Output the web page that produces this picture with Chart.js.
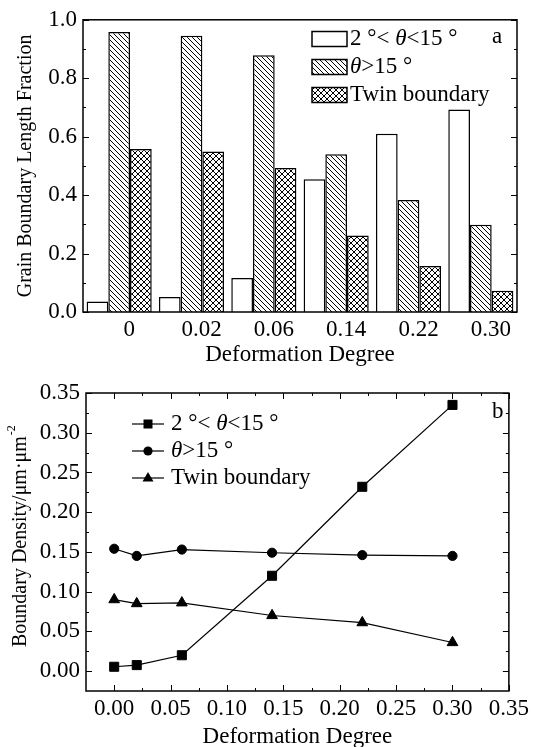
<!DOCTYPE html>
<html>
<head>
<meta charset="utf-8">
<title>Grain boundary fraction and density vs deformation degree</title>
<script src="https://cdn.jsdelivr.net/npm/chart.js@4.4.1/dist/chart.umd.min.js"></script>
<style>
  body { margin: 0; background: #fff; }
  canvas { display: block; }
</style>
</head>
<body>
<canvas id="fractionChart" width="533" height="370"></canvas>
<canvas id="densityChart" width="533" height="377"></canvas>
<script>
// Deformation degrees (shared by both panels)
const degreeLabels = ['0', '0.02', '0.06', '0.14', '0.22', '0.30'];
const degrees = [0, 0.02, 0.06, 0.14, 0.22, 0.30];
const seriesNames = ['2 °< θ<15 °', 'θ>15 °', 'Twin boundary'];

// Panel a: grain boundary length fraction
const lowAngleFraction = [0.036, 0.051, 0.116, 0.454, 0.610, 0.693];
const highAngleFraction = [0.958, 0.945, 0.879, 0.540, 0.383, 0.299];
const twinFraction = [0.558, 0.549, 0.493, 0.262, 0.157, 0.073];
const fractionTicks = [0, 0.2, 0.4, 0.6, 0.8, 1.0];

// Panel b: boundary density
const lowAngleDensity = [0.0055, 0.0076, 0.020, 0.120, 0.232, 0.335];
const highAngleDensity = [0.154, 0.145, 0.153, 0.149, 0.146, 0.145];
const twinDensity = [0.090, 0.085, 0.086, 0.070, 0.061, 0.036];
const densityTicks = [0, 0.05, 0.10, 0.15, 0.20, 0.25, 0.30, 0.35];
const degreeTicks = [0, 0.05, 0.10, 0.15, 0.20, 0.25, 0.30, 0.35];

const serif = "'Liberation Serif', 'Times New Roman', serif";
Chart.defaults.font.family = serif;
Chart.defaults.color = '#000';

// hatch fills for the bars
function hatch(size, cross) {
    const c = document.createElement('canvas');
    c.width = c.height = size;
    const g = c.getContext('2d');
    g.fillStyle = '#fff';
    g.fillRect(0, 0, size, size);
    g.strokeStyle = '#000';
    g.lineWidth = 1;
    g.beginPath();
    for (let k = -1; k <= 1; k++) {
        g.moveTo(k * size, 0);
        g.lineTo(k * size + size, size);
        if (cross) {
            g.moveTo(k * size, size);
            g.lineTo(k * size + size, 0);
        }
    }
    g.stroke();
    return g.createPattern(c, 'repeat');
}

// legend text with an italic theta
function richText(ctx, text, x, y, size) {
    const parts = text.split('θ');
    parts.forEach((p, i) => {
        ctx.font = size + 'px ' + serif;
        ctx.fillText(p, x, y);
        x += ctx.measureText(p).width;
        if (i < parts.length - 1) {
            ctx.font = 'italic ' + size + 'px ' + serif;
            ctx.fillText('θ', x, y);
            x += ctx.measureText('θ').width;
        }
    });
}

// inward tick marks, major on the tick values and minor half way between
function drawTicks(ctx, scale, values, from, dir, horizontal) {
    ctx.beginPath();
    values.forEach((v, i) => {
        const marks = [[v, 6]];
        if (i > 0) marks.push([(v + values[i - 1]) / 2, 3]);
        marks.forEach(([val, len]) => {
            const p = Math.round(scale.getPixelForValue(val)) + 0.5;
            if (horizontal) {
                ctx.moveTo(p, from);
                ctx.lineTo(p, from + dir * len);
            } else {
                ctx.moveTo(from, p);
                ctx.lineTo(from + dir * len, p);
            }
        });
    });
    ctx.stroke();
}

function setTicks(values) {
    return scale => { scale.ticks = values.map(v => ({ value: v })); };
}

// ---------- Panel a ----------
const barFills = ['#fff', hatch(5, false), hatch(6, true)];
const barSeries = [lowAngleFraction, highAngleFraction, twinFraction];

const fractionFrame = {
    id: 'fractionFrame',
    afterDraw(chart) {
        const ctx = chart.ctx;
        const a = chart.chartArea;
        const y = chart.scales.y;
        ctx.save();
        ctx.strokeStyle = '#000';
        ctx.lineWidth = 1;
        drawTicks(ctx, y, fractionTicks, a.left, 1, false);
        drawTicks(ctx, y, fractionTicks, a.right, -1, false);
        ctx.lineWidth = 1.5;
        ctx.strokeRect(a.left, a.top, a.right - a.left, a.bottom - a.top);

        // legend
        ctx.fillStyle = '#000';
        ctx.textBaseline = 'middle';
        ctx.textAlign = 'left';
        const rows = [39, 67, 95];
        chart.data.datasets.forEach((ds, i) => {
            ctx.fillStyle = ds.backgroundColor;
            ctx.fillRect(312, rows[i] - 7.5, 35, 15);
            ctx.lineWidth = 1.5;
            ctx.strokeRect(312, rows[i] - 7.5, 35, 15);
            ctx.fillStyle = '#000';
            richText(ctx, ds.label, 350, rows[i], 23);
        });
        ctx.font = '23px ' + serif;
        ctx.fillText('a', 492, 37);
        ctx.restore();
    }
};

new Chart(document.getElementById('fractionChart'), {
    type: 'bar',
    data: {
        labels: degreeLabels,
        datasets: barSeries.map((values, i) => ({
            label: seriesNames[i],
            data: values,
            backgroundColor: barFills[i],
            borderColor: '#000',
            borderWidth: 1.5,
            categoryPercentage: 0.9,
            barPercentage: 1.0
        }))
    },
    options: {
        responsive: false,
        animation: false,
        events: [],
        layout: { padding: { left: 0, right: 16, top: 16, bottom: 0 } },
        plugins: { legend: { display: false }, tooltip: { enabled: false } },
        scales: {
            x: {
                grid: { display: false, drawTicks: false },
                border: { display: false },
                ticks: { font: { size: 23 }, padding: 4, labelOffset: 10, maxRotation: 0 },
                title: {
                    display: true,
                    text: 'Deformation Degree',
                    font: { size: 23, lineHeight: 0.9 },
                    padding: { top: 0, bottom: 5 }
                },
                afterFit: scale => { scale.height = 58; }
            },
            y: {
                min: 0,
                max: 1,
                grid: { display: false, drawTicks: false },
                border: { display: false },
                afterBuildTicks: setTicks(fractionTicks),
                ticks: { font: { size: 23 }, padding: 6, callback: v => v.toFixed(1) },
                title: {
                    display: true,
                    text: 'Grain Boundary Length Fraction',
                    font: { size: 20 },
                    padding: { top: 14, bottom: 0 }
                },
                afterFit: scale => { scale.width = 83; }
            }
        }
    },
    plugins: [fractionFrame]
});

// ---------- Panel b ----------
const lineSeries = [lowAngleDensity, highAngleDensity, twinDensity];
const markerStyles = ['rect', 'circle', 'triangle'];
const markerSizes = [6.4, 4.6, 6.2];

function legendMarker(ctx, style, x, y) {
    ctx.beginPath();
    if (style === 'rect') {
        ctx.rect(x - 4.5, y - 4.5, 9, 9);
    } else if (style === 'circle') {
        ctx.arc(x, y, 4.6, 0, Math.PI * 2);
    } else {
        ctx.moveTo(x, y - 6);
        ctx.lineTo(x + 5.5, y + 3.5);
        ctx.lineTo(x - 5.5, y + 3.5);
        ctx.closePath();
    }
    ctx.fill();
}

const densityFrame = {
    id: 'densityFrame',
    afterDraw(chart) {
        const ctx = chart.ctx;
        const a = chart.chartArea;
        const {x, y} = chart.scales;
        ctx.save();
        ctx.strokeStyle = '#000';
        ctx.lineWidth = 1;
        drawTicks(ctx, y, densityTicks, a.left, 1, false);
        drawTicks(ctx, y, densityTicks, a.right, -1, false);
        drawTicks(ctx, x, degreeTicks, a.bottom, -1, true);
        drawTicks(ctx, x, degreeTicks, a.top, 1, true);
        ctx.lineWidth = 1.5;
        ctx.strokeRect(a.left, a.top, a.right - a.left, a.bottom - a.top);

        // legend
        ctx.fillStyle = '#000';
        ctx.textBaseline = 'middle';
        ctx.textAlign = 'left';
        const rows = [54, 81, 108];
        chart.data.datasets.forEach((ds, i) => {
            ctx.lineWidth = 1.2;
            ctx.beginPath();
            ctx.moveTo(132, rows[i]);
            ctx.lineTo(164, rows[i]);
            ctx.stroke();
            legendMarker(ctx, markerStyles[i], 148, rows[i]);
            richText(ctx, ds.label, 171, rows[i], 23);
        });
        ctx.font = '23px ' + serif;
        ctx.fillText('b', 492, 42);

        // y title with superscript
        ctx.translate(21, 277);
        ctx.rotate(-Math.PI / 2);
        ctx.font = '20px ' + serif;
        const main = 'Boundary Density/μm·μm';
        ctx.fillText(main, 0, 0);
        const w = ctx.measureText(main).width;
        ctx.font = '12px ' + serif;
        ctx.fillText('-2', w + 1, -9);
        ctx.restore();
    }
};

new Chart(document.getElementById('densityChart'), {
    type: 'line',
    data: {
        datasets: lineSeries.map((values, i) => ({
            label: seriesNames[i],
            data: degrees.map((d, j) => ({ x: d, y: values[j] })),
            borderColor: '#000',
            backgroundColor: '#000',
            borderWidth: 1.2,
            pointStyle: markerStyles[i],
            pointRadius: markerSizes[i],
            pointBorderWidth: 1,
            tension: 0
        }))
    },
    options: {
        responsive: false,
        animation: false,
        events: [],
        layout: { padding: { left: 0, right: 22, top: 23, bottom: 0 } },
        plugins: { legend: { display: false }, tooltip: { enabled: false } },
        scales: {
            x: {
                type: 'linear',
                min: -0.025,
                max: 0.35,
                grid: { display: false, drawTicks: false },
                border: { display: false },
                afterBuildTicks: setTicks(degreeTicks),
                ticks: { font: { size: 23 }, padding: 4, maxRotation: 0, callback: v => v.toFixed(2) },
                title: {
                    display: true,
                    text: 'Deformation Degree',
                    font: { size: 23, lineHeight: 0.9 },
                    padding: { top: 0, bottom: 0 }
                },
                afterFit: scale => { scale.height = 56; }
            },
            y: {
                min: -0.025,
                max: 0.35,
                grid: { display: false, drawTicks: false },
                border: { display: false },
                afterBuildTicks: setTicks(densityTicks),
                ticks: { font: { size: 23 }, padding: 6, callback: v => v.toFixed(2) },
                afterFit: scale => { scale.width = 86; }
            }
        }
    },
    plugins: [densityFrame]
});
</script>
</body>
</html>
